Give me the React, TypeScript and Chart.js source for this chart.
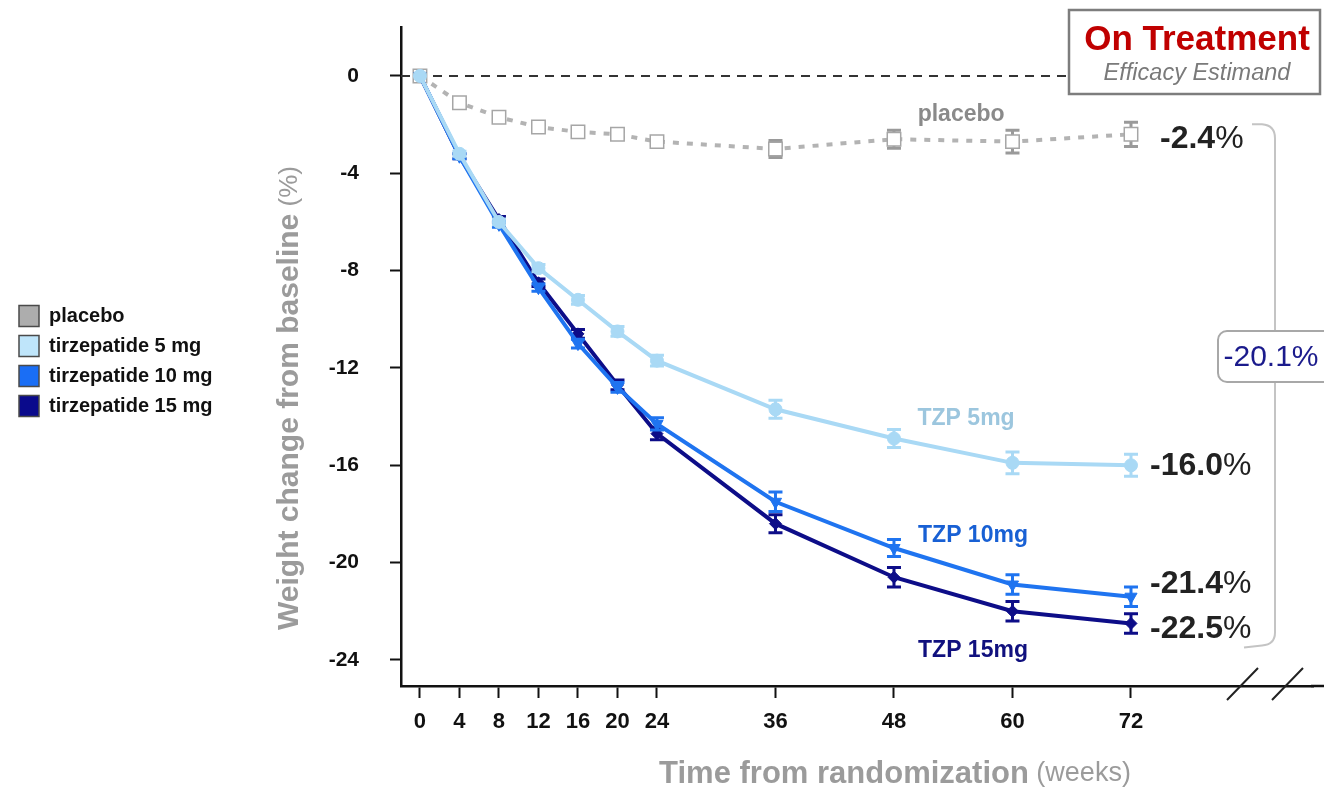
import { useEffect, useRef } from "react";
import { Chart, registerables } from "chart.js";

Chart.register(...registerables);

// Weeks from randomization at which weight was measured
const weeks = [0, 4, 8, 12, 16, 20, 24, 36, 48, 60, 72];

// Mean % change in body weight from baseline, by arm
const placebo = [0, -1.1, -1.7, -2.1, -2.3, -2.4, -2.7, -3.0, -2.6, -2.7, -2.4];
const tzp5 = [0, -3.2, -6.0, -7.9, -9.2, -10.5, -11.7, -13.7, -14.9, -15.9, -16.0];
const tzp10 = [0, -3.3, -6.1, -8.7, -11.0, -12.8, -14.3, -17.5, -19.4, -20.9, -21.4];
const tzp15 = [0, -3.3, -5.9, -8.5, -10.6, -12.7, -14.7, -18.4, -20.6, -22.0, -22.5];

// Standard errors of the means
const placeboSE = [0, 0.1, 0.1, 0.1, 0.1, 0.12, 0.15, 0.35, 0.37, 0.47, 0.5];
const tzp5SE = [0, 0.1, 0.12, 0.15, 0.18, 0.2, 0.22, 0.37, 0.37, 0.45, 0.45];
const tzp10SE = [0, 0.1, 0.12, 0.15, 0.18, 0.2, 0.25, 0.4, 0.35, 0.4, 0.4];
const tzp15SE = [0, 0.1, 0.12, 0.15, 0.18, 0.2, 0.25, 0.37, 0.4, 0.4, 0.4];

// Axis tick values
const yTickValues = [0, -4, -8, -12, -16, -20, -24];
const xTickValues = weeks;

// Arm names (legend) and short names (curve labels)
const armNames = ["placebo", "tirzepatide 5 mg", "tirzepatide 10 mg", "tirzepatide 15 mg"];
const curveNames = ["placebo", "TZP 5mg", "TZP 10mg", "TZP 15mg"];

const FONT = "'Liberation Sans', Arial, Helvetica, sans-serif";

const colors = {
  placebo: "#adadad",
  tzp5: "#a9d9f5",
  tzp10: "#1f74f0",
  tzp15: "#0d0d88",
};

// Plot frame on the page
const FRAME = { left: 401, top: 27, right: 1324, bottom: 686 };

type Part = { text: string; font: string; color: string };

function drawParts(
  ctx: CanvasRenderingContext2D,
  parts: Part[],
  x: number,
  y: number,
  align: "left" | "center" | "right"
) {
  ctx.save();
  ctx.textBaseline = "middle";
  ctx.textAlign = "left";
  const widths = parts.map((p) => {
    ctx.font = p.font;
    return ctx.measureText(p.text).width;
  });
  const total = widths.reduce((a, b) => a + b, 0);
  let cx = align === "center" ? x - total / 2 : align === "right" ? x - total : x;
  parts.forEach((p, i) => {
    ctx.font = p.font;
    ctx.fillStyle = p.color;
    ctx.fillText(p.text, cx, y);
    cx += widths[i];
  });
  ctx.restore();
}

const seByDataset = [tzp5SE, tzp10SE, tzp15SE, placeboSE];
const capColors = [colors.tzp5, colors.tzp10, colors.tzp15, "#9a9a9a"];

const zeroPadding = (scale: any) => {
  scale.paddingLeft = 0;
  scale.paddingRight = 0;
  scale.paddingTop = 0;
  scale.paddingBottom = 0;
};

const decorations = {
  id: "decorations",
  beforeDatasetsDraw(chart: any) {
    const { ctx, scales, chartArea } = chart;
    const x = scales.x;
    const y = scales.y;
    const y0 = y.getPixelForValue(0);
    ctx.save();
    ctx.setLineDash([9, 7]);
    ctx.strokeStyle = "#333";
    ctx.lineWidth = 2;
    ctx.beginPath();
    ctx.moveTo(x.left, y0);
    ctx.lineTo(1068, y0);
    ctx.stroke();
    ctx.setLineDash([]);
    // carry the time axis to the page edge
    ctx.strokeStyle = "#111";
    ctx.lineWidth = 2.5;
    ctx.beginPath();
    ctx.moveTo(chartArea.right - 2, chartArea.bottom);
    ctx.lineTo(FRAME.right, chartArea.bottom);
    ctx.stroke();
    ctx.restore();
  },
  beforeDatasetDraw(chart: any, args: any) {
    const { ctx, scales } = chart;
    const x = scales.x;
    const y = scales.y;
    const idx = args.index;
    const values = chart.data.datasets[idx].data as { x: number; y: number }[];
    const se = seByDataset[idx];
    ctx.save();
    ctx.strokeStyle = capColors[idx];
    ctx.lineWidth = 3;
    values.forEach((pt, i) => {
      if (!se[i]) return;
      const px = x.getPixelForValue(pt.x);
      const top = y.getPixelForValue(pt.y + se[i]);
      const bot = y.getPixelForValue(pt.y - se[i]);
      ctx.beginPath();
      ctx.moveTo(px, top);
      ctx.lineTo(px, bot);
      ctx.moveTo(px - 7, top);
      ctx.lineTo(px + 7, top);
      ctx.moveTo(px - 7, bot);
      ctx.lineTo(px + 7, bot);
      ctx.stroke();
    });
    ctx.restore();
  },
  afterDraw(chart: any) {
    const { ctx, scales } = chart;
    const x = scales.x;
    const y = scales.y;

    // Tick labels
    yTickValues.forEach((v) => {
      drawParts(ctx, [{ text: String(v), font: `bold 21px ${FONT}`, color: "#111" }], 359, y.getPixelForValue(v), "right");
    });
    xTickValues.forEach((w) => {
      drawParts(ctx, [{ text: String(w), font: `bold 22px ${FONT}`, color: "#111" }], x.getPixelForValue(w), 722, "center");
    });

    // Axis titles
    ctx.save();
    ctx.translate(290, 398);
    ctx.rotate(-Math.PI / 2);
    drawParts(
      ctx,
      [
        { text: "Weight change from baseline", font: `bold 30px ${FONT}`, color: "#9b9b9b" },
        { text: " (%)", font: `26px ${FONT}`, color: "#9b9b9b" },
      ],
      0,
      0,
      "center"
    );
    ctx.restore();
    drawParts(
      ctx,
      [
        { text: "Time from randomization", font: `bold 31px ${FONT}`, color: "#9b9b9b" },
        { text: " (weeks)", font: `27px ${FONT}`, color: "#9b9b9b" },
      ],
      895,
      774,
      "center"
    );

    // Legend
    const legendColors = [colors.placebo, "#bfe5fa", "#1a6ef5", "#0a0a8c"];
    armNames.forEach((name, i) => {
      const cy = 316 + i * 30;
      ctx.save();
      ctx.fillStyle = legendColors[i];
      ctx.strokeStyle = "#4a4a4a";
      ctx.lineWidth = 1.5;
      ctx.fillRect(19, cy - 10.5, 20, 21);
      ctx.strokeRect(19, cy - 10.5, 20, 21);
      ctx.restore();
      drawParts(ctx, [{ text: name, font: `bold 20px ${FONT}`, color: "#111" }], 49, cy, "left");
    });

    // Curve labels
    const labelAt = [
      { wk: 54.8, v: -1.6, color: "#8a8a8a" },
      { wk: 55.3, v: -14.1, color: "#9cc6de" },
      { wk: 56.0, v: -18.9, color: "#1860d4" },
      { wk: 56.0, v: -23.6, color: "#10107e" },
    ];
    labelAt.forEach((l, i) => {
      drawParts(
        ctx,
        [{ text: curveNames[i], font: `bold 23px ${FONT}`, color: l.color }],
        x.getPixelForValue(l.wk),
        y.getPixelForValue(l.v),
        "center"
      );
    });

    // End-of-treatment values
    const last = weeks.length - 1;
    const ends = [
      { v: placebo[last], dx: 1160, dy: 5 },
      { v: tzp5[last], dx: 1150, dy: 1 },
      { v: tzp10[last], dx: 1150, dy: -13 },
      { v: tzp15[last], dx: 1150, dy: 6 },
    ];
    ends.forEach((e) => {
      drawParts(
        ctx,
        [
          { text: e.v.toFixed(1), font: `bold 32px ${FONT}`, color: "#222" },
          { text: "%", font: `32px ${FONT}`, color: "#222" },
        ],
        e.dx,
        y.getPixelForValue(e.v) + e.dy,
        "left"
      );
    });

    // Bracket between placebo and highest dose
    const topY = y.getPixelForValue(placebo[last]) - 10;
    const botY = y.getPixelForValue(tzp15[last]) + 21;
    ctx.save();
    ctx.strokeStyle = "#c4c4c4";
    ctx.lineWidth = 2;
    ctx.beginPath();
    ctx.moveTo(1252, topY);
    ctx.lineTo(1262, topY);
    ctx.quadraticCurveTo(1275, topY + 1, 1275, topY + 14);
    ctx.lineTo(1275, botY - 12);
    ctx.quadraticCurveTo(1275, botY, 1262, botY + 1);
    ctx.lineTo(1244, botY + 3);
    ctx.stroke();
    ctx.restore();

    // Difference box
    const diff = tzp15[last] - placebo[last];
    ctx.save();
    ctx.fillStyle = "#fff";
    ctx.strokeStyle = "#a8a8a8";
    ctx.lineWidth = 2;
    ctx.beginPath();
    ctx.roundRect(1218, 331, 120, 51, 9);
    ctx.fill();
    ctx.stroke();
    ctx.restore();
    drawParts(ctx, [{ text: diff.toFixed(1) + "%", font: `30px ${FONT}`, color: "#1b1b8c" }], 1271, 358, "center");

    // Title box
    ctx.save();
    ctx.fillStyle = "#fff";
    ctx.strokeStyle = "#7d7d7d";
    ctx.lineWidth = 2.5;
    ctx.fillRect(1069, 10, 251, 84);
    ctx.strokeRect(1069, 10, 251, 84);
    ctx.restore();
    drawParts(ctx, [{ text: "On Treatment", font: `bold 35px ${FONT}`, color: "#c00000" }], 1197, 40, "center");
    drawParts(ctx, [{ text: "Efficacy Estimand", font: `italic 23.5px ${FONT}`, color: "#7a7a7a" }], 1197, 73, "center");

    // Axis break marks
    ctx.save();
    ctx.strokeStyle = "#222";
    ctx.lineWidth = 2;
    ctx.beginPath();
    ctx.moveTo(1227, 700);
    ctx.lineTo(1258, 668);
    ctx.moveTo(1272, 700);
    ctx.lineTo(1303, 668);
    ctx.stroke();
    ctx.restore();
  },
};

export default function App() {
  const canvasRef = useRef<HTMLCanvasElement | null>(null);

  useEffect(() => {
    const canvas = canvasRef.current;
    if (!canvas) return;
    const toPts = (vals: number[]) => weeks.map((w, i) => ({ x: w, y: vals[i] }));

    const chart = new Chart(canvas, {
      type: "line",
      data: {
        datasets: [
          {
            label: armNames[1],
            data: toPts(tzp5),
            borderColor: colors.tzp5,
            borderWidth: 4,
            pointStyle: "circle",
            pointRadius: 6.5,
            pointBackgroundColor: colors.tzp5,
            pointBorderColor: colors.tzp5,
            pointBorderWidth: 1,
          },
          {
            label: armNames[2],
            data: toPts(tzp10),
            borderColor: colors.tzp10,
            borderWidth: 4,
            pointStyle: "triangle",
            rotation: 180,
            pointRadius: 7,
            pointBackgroundColor: colors.tzp10,
            pointBorderColor: colors.tzp10,
            pointBorderWidth: 1,
          },
          {
            label: armNames[3],
            data: toPts(tzp15),
            borderColor: colors.tzp15,
            borderWidth: 4,
            pointStyle: "rectRot",
            pointRadius: 6,
            pointBackgroundColor: colors.tzp15,
            pointBorderColor: colors.tzp15,
            pointBorderWidth: 1,
          },
          {
            label: armNames[0],
            data: toPts(placebo),
            borderColor: "#b3b3b3",
            borderWidth: 4,
            borderDash: [6, 8],
            pointStyle: "rect",
            pointRadius: 9.5,
            pointBackgroundColor: "#fff",
            pointBorderColor: "#a6a6a6",
            pointBorderWidth: 1.5,
          },
        ],
      },
      options: {
        responsive: false,
        animation: false,
        devicePixelRatio: 1,
        layout: { padding: { top: FRAME.top, left: 0, right: 0, bottom: 0 } },
        plugins: {
          legend: { display: false },
          tooltip: { enabled: false },
        },
        scales: {
          x: {
            type: "linear",
            min: -1.92,
            max: 90.43,
            afterFit: (scale: any) => {
              scale.height = 790 - FRAME.bottom;
              zeroPadding(scale);
            },
            afterBuildTicks: (scale: any) => {
              scale.ticks = xTickValues.map((v) => ({ value: v }));
            },
            grid: {
              drawOnChartArea: false,
              tickLength: 12,
              tickWidth: 2,
              tickColor: "#111",
            },
            border: { display: true, color: "#111", width: 2.5 },
            ticks: { display: false },
          },
          y: {
            type: "linear",
            min: -25.07,
            max: 2.01,
            afterFit: (scale: any) => {
              scale.width = FRAME.left;
              zeroPadding(scale);
            },
            afterBuildTicks: (scale: any) => {
              scale.ticks = yTickValues.map((v) => ({ value: v }));
            },
            grid: {
              drawOnChartArea: false,
              tickLength: 11,
              tickWidth: 2,
              tickColor: "#111",
            },
            border: { display: true, color: "#111", width: 2.5 },
            ticks: { display: false },
          },
        },
      },
      plugins: [decorations],
    });

    return () => chart.destroy();
  }, []);

  return (
    <div style={{ position: "fixed", left: 0, top: 0, width: 1324, height: 790, background: "#fff" }}>
      <canvas ref={canvasRef} width={1324} height={790} style={{ width: 1324, height: 790, display: "block" }} />
    </div>
  );
}
